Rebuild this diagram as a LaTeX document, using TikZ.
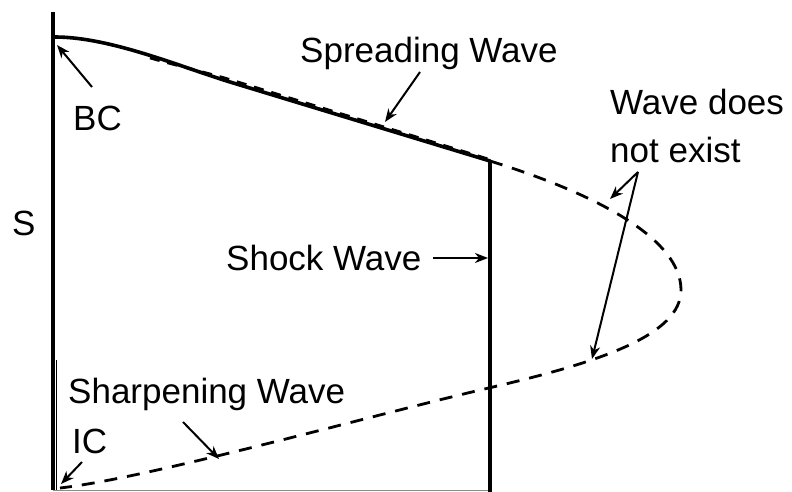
\documentclass[tikz,border=0pt]{standalone}
\usepackage{fontspec}
\setmainfont{Liberation Sans}
\usetikzlibrary{arrows.meta}
\begin{document}
\begin{tikzpicture}[x=1pt,y=-1pt,
  lbl/.style={inner sep=0pt,anchor=base west,font=\fontsize{35}{42}\selectfont},
  thickln/.style={line width=4pt},
  wavedash/.style={line width=2.8pt,dash pattern=on 13pt off 10pt},
  ptr/.style={line width=2pt,-{Stealth[length=13pt,width=10pt,inset=4pt]}}]
\useasboundingbox (0,0) rectangle (792,492);
% axes / frame
\draw[thickln] (53,12) -- (53,490);
\draw[line width=0.8pt] (56.5,360) -- (56.5,490);
\draw[line width=0.8pt,black!45] (53,490.8) -- (490,490.8);
% shock wave
\draw[line width=3.8pt] (490,160) -- (490,492);
% spreading wave (solid and dashed)
\draw[line width=3.6pt,line cap=round] (55,37) .. controls (110,37) and (180,66.6) .. (230,82) -- (490,161);
\draw[line width=2.6pt,dash pattern=on 10pt off 8pt] (150,58) .. controls (185,68) and (205,72) .. (230,79.5) -- (490,159.5);
% non-existing wave and sharpening wave
\draw[wavedash] (490,161) .. controls (600,195) and (681,240) .. (681,290)
  .. controls (681,335) and (600,362) .. (493,387)
  .. controls (380,413) and (150,478) .. (60,488);
% labels
\node[lbl] (spread) at (300,63) {Spreading Wave};
\node[lbl] (shock) at (226,270) {Shock Wave};
\node[lbl] (wdoes) at (610,115) {Wave does};
\node[lbl] (nexist) at (610,162) {not exist};
\node[lbl] (S) at (12,235) {S};
\node[lbl] (BC) at (73,131) {BC};
\node[lbl] (sharp) at (68,403) {Sharpening Wave};
\node[lbl] (IC) at (72,453) {IC};
% arrow endpoints
\coordinate (spA) at (420,72);   \coordinate (spB) at (385,122);
\coordinate (shA) at (433,258);  \coordinate (shB) at (488,258);
\coordinate (neA) at (638,172);  \coordinate (neB) at (610,199);
\coordinate (neC) at (592,359);
\coordinate (bcA) at (92,87);    \coordinate (bcB) at (57,45);
\coordinate (shpA) at (183,422); \coordinate (shpB) at (219,459);
\coordinate (icA) at (82,462);   \coordinate (icB) at (61,484);
\draw[ptr] (spA) -- (spB);
\draw[ptr] (shA) -- (shB);
\draw[ptr] (neA) -- (neB);
\draw[ptr] (neA) -- (neC);
\draw[ptr] (bcA) -- (bcB);
\draw[ptr] (shpA) -- (shpB);
\draw[ptr] (icA) -- (icB);
\end{tikzpicture}
\end{document}
